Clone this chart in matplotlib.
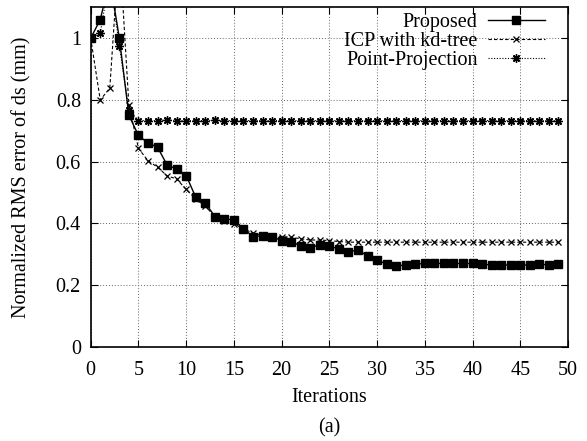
import matplotlib
matplotlib.use("Agg")
import matplotlib.pyplot as plt
import numpy as np

iterations = list(range(50))

proposed = [1.0, 1.06, 1.19, 1.0, 0.75, 0.685, 0.66, 0.647, 0.589, 0.576,
            0.555, 0.485, 0.467, 0.422, 0.414, 0.411, 0.383, 0.357, 0.36, 0.357,
            0.344, 0.341, 0.327, 0.321, 0.331, 0.325, 0.318, 0.307, 0.314, 0.294,
            0.281, 0.268, 0.262, 0.265, 0.268, 0.27, 0.27, 0.27, 0.27, 0.27,
            0.27, 0.268, 0.265, 0.265, 0.265, 0.265, 0.265, 0.268, 0.265, 0.268]

icp_kdtree = [1.0, 0.80, 0.838, 1.30, 0.784, 0.643, 0.603, 0.582, 0.554, 0.544,
              0.51, 0.479, 0.456, 0.422, 0.408, 0.398, 0.383, 0.368, 0.362, 0.36,
              0.357, 0.355, 0.35, 0.346, 0.346, 0.344, 0.341, 0.339, 0.339, 0.339,
              0.339, 0.339, 0.339, 0.339, 0.339, 0.339, 0.339, 0.339, 0.339, 0.339,
              0.339, 0.339, 0.339, 0.339, 0.339, 0.339, 0.339, 0.339, 0.339, 0.339]

point_projection = [1.0, 1.016, 1.2, 0.975, 0.768, 0.733, 0.733, 0.733, 0.735, 0.733,
                    0.733, 0.733, 0.733, 0.734, 0.733, 0.733, 0.733, 0.733, 0.733, 0.733,
                    0.733, 0.733, 0.733, 0.733, 0.733, 0.733, 0.733, 0.733, 0.733, 0.733,
                    0.733, 0.733, 0.733, 0.733, 0.733, 0.733, 0.733, 0.733, 0.733, 0.733,
                    0.733, 0.733, 0.733, 0.733, 0.733, 0.733, 0.733, 0.733, 0.733, 0.733]

labels = ["Proposed", "ICP with kd-tree", "Point-Projection"]
xticks = list(range(0, 51, 5))
yticks = [0, 0.2, 0.4, 0.6, 0.8, 1.0]
ytick_labels = ["0", "0.2", "0.4", "0.6", "0.8", "1"]

plt.rcParams['font.family'] = ['Liberation Serif', 'DejaVu Serif']
FS = 14.5

fig = plt.figure(figsize=(5.87, 4.41), dpi=100)
ax = fig.add_axes([90.7 / 587, 1 - 346.8 / 441, (568 - 90.7) / 587, (346.8 - 7.3) / 441])

ax.plot(iterations, proposed, color='black', lw=1.0, ls='-', marker='s',
        markersize=5.5, label=labels[0])
ax.plot(iterations, icp_kdtree, color='black', lw=0.8, ls=(0, (3, 2)), marker='x',
        markersize=4.5, markeredgewidth=0.9, label=labels[1])
ax.plot(iterations, point_projection, color='black', lw=0.8, ls=(0, (1, 1.5)),
        marker=(8, 2, 0), markersize=6, markeredgewidth=1.0, label=labels[2])

ax.set_xlim(0, 50)
ax.set_ylim(0, 1.1)
ax.set_xticks(xticks)
ax.set_yticks(yticks)
ax.set_yticklabels(ytick_labels)

ax.grid(True, color='#666666', ls=(0, (1, 2)), lw=0.7)
ax.tick_params(direction='in', top=True, right=True, length=5, width=0.8,
               labelsize=FS)
ax.tick_params(axis='x', pad=10)
ax.tick_params(axis='y', pad=7)
for s in ax.spines.values():
    s.set_linewidth(1.2)

ax.set_xlabel("Iterations", fontsize=FS)
ax.set_ylabel("Normalized RMS error of ds (mm)", fontsize=FS)
ax.xaxis.set_label_coords(0.5, (346.8 - 397) / 339.5)
ax.yaxis.set_label_coords((22 - 90.7) / 477.3, 0.5)
ax.xaxis.label.set_va('center')
ax.yaxis.label.set_va('center')

leg = ax.legend(loc='upper right', bbox_to_anchor=((545 - 90.7) / 477.3, (346.8 - 13) / 339.5),
                markerfirst=False, frameon=False, fontsize=FS,
                handlelength=2.85, labelspacing=0.0, borderaxespad=0.0, borderpad=0.0,
                handletextpad=0.5)

fig.text((90.7 + 568) / 2 / 587, 1 - 428 / 441, "(a)", ha='center', va='center',
         fontsize=FS)

fig.savefig("out.png", dpi=100)
